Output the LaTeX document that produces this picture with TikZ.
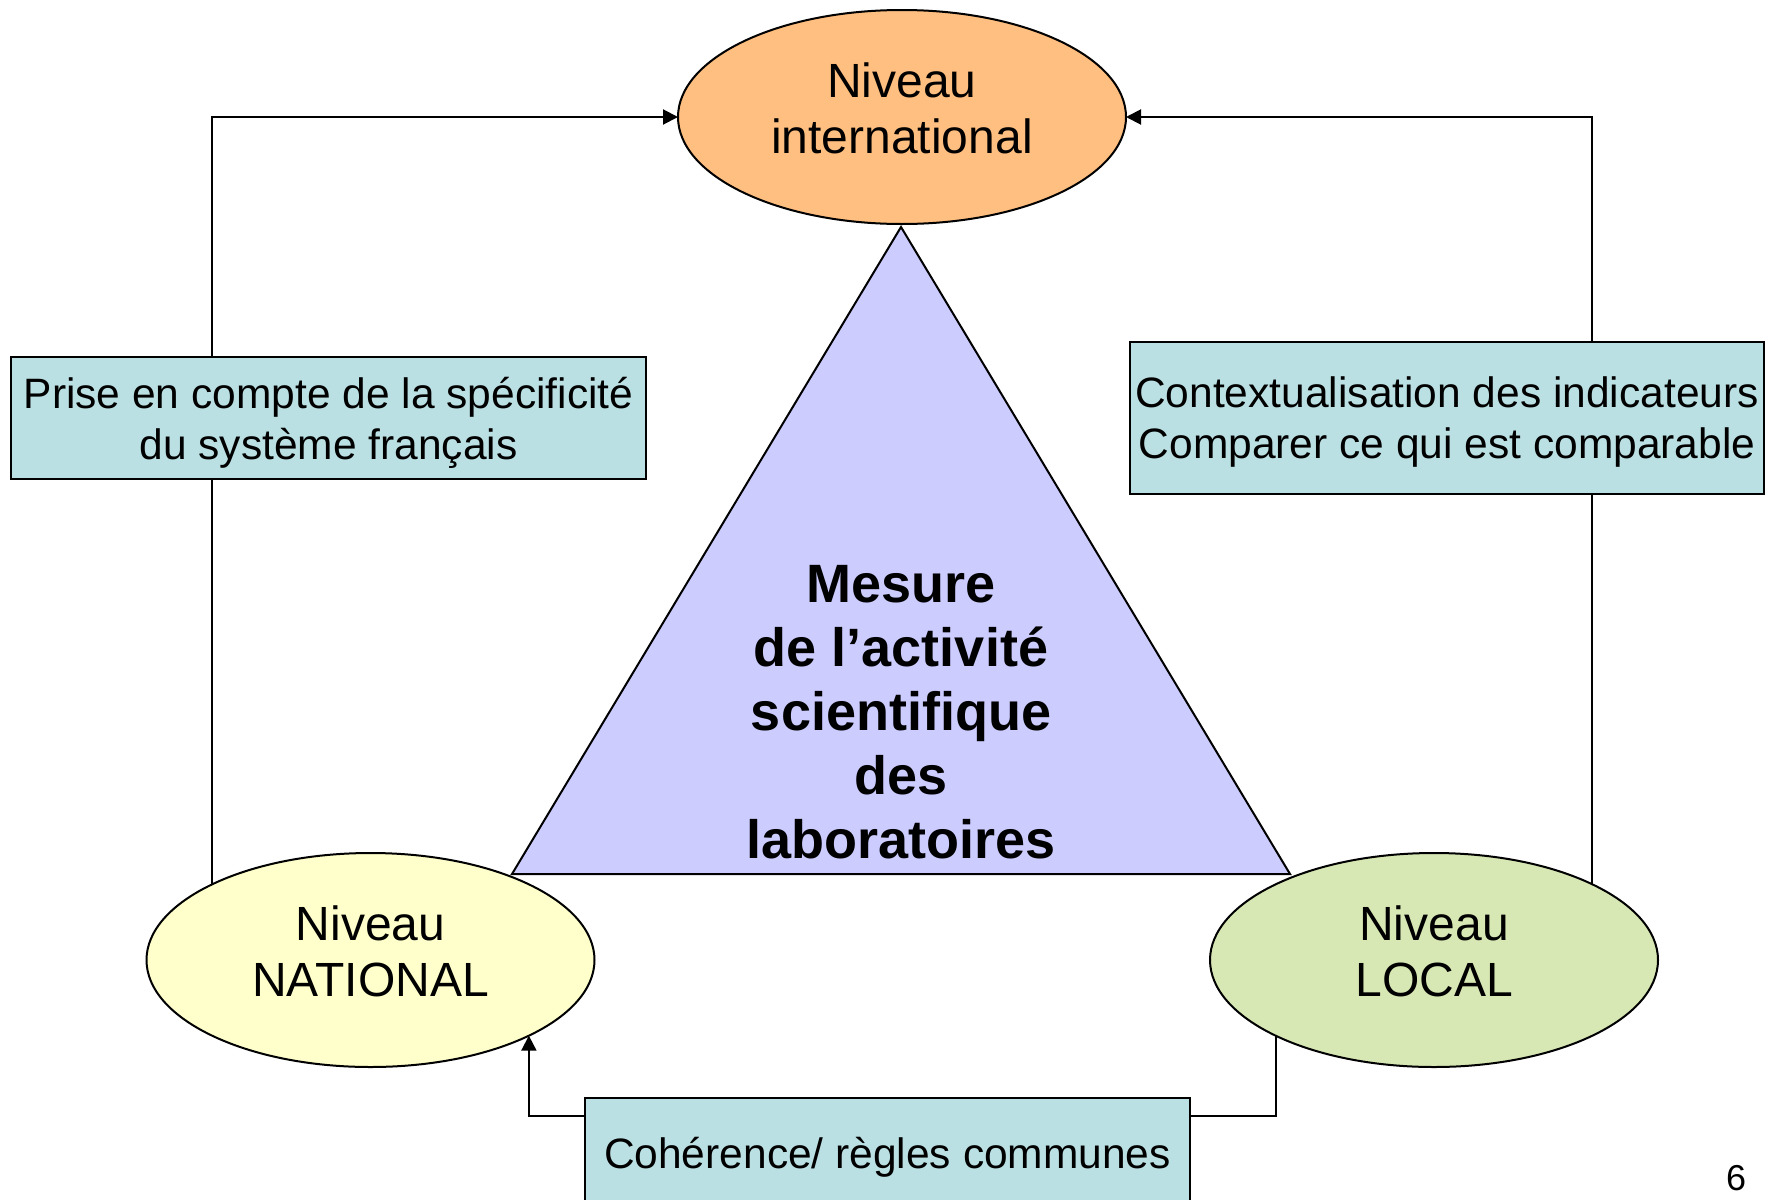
\documentclass[tikz,border=0pt]{standalone}
\usepackage{fontspec}
\setmainfont{Liberation Sans}
\usepackage{tikz}
\usetikzlibrary{shapes.geometric,arrows.meta}

\definecolor{intlorange}{RGB}{255,191,128}
\definecolor{natyellow}{RGB}{255,255,204}
\definecolor{locgreen}{RGB}{215,232,180}
\definecolor{trililac}{RGB}{204,204,255}
\definecolor{boxteal}{RGB}{187,224,227}

\begin{document}
\begin{tikzpicture}[x=0.5pt, y=-0.5pt,
    niveau/.style={ellipse, draw, line width=1pt, minimum width=224pt, minimum height=107pt,
        inner sep=0pt, outer sep=0pt, align=center, text depth=9pt,
        font=\fontsize{24}{28.3}\selectfont},
    liaison/.style={draw, line width=1pt, fill=boxteal, inner sep=0pt, outer sep=0pt,
        align=center, text depth=0pt, font=\fontsize{21.25}{25.5}\selectfont},
    fleche/.style={line width=1pt, -{Triangle[length=7.5pt,width=7.5pt]}}]
    \useasboundingbox (0,0) rectangle (1771,1199);

    % the three levels
    \node[niveau, fill=intlorange] (intl) at (902,117) {Niveau\\international};
    \node[niveau, fill=natyellow] (nat) at (370.5,960) {Niveau\\NATIONAL};
    \node[niveau, fill=locgreen] (loc) at (1434,960) {Niveau\\LOCAL};

    % triangle in the middle
    \coordinate (apex) at (901,227);
    \coordinate (baseL) at (512,874);
    \coordinate (baseR) at (1290,874);
    \draw[line width=1pt, fill=trililac] (apex) -- (baseL) -- (baseR) -- cycle;
    \node[align=center, font=\fontsize{27}{32}\bfseries] (mesure) at (901,712)
        {Mesure\\de l’activité\\scientifique\\des\\laboratoires};

    % connectors
    \draw[fleche] (nat.north west) |- (intl.west);
    \draw[fleche] (loc.north east) |- (intl.east);
    \coordinate (bend) at (900,1116);
    \draw[fleche] (loc.south west) -- (loc.south west |- bend) -- (nat.south east |- bend) -- (nat.south east);

    % labels on the connectors
    \node[liaison, minimum width=317.5pt, minimum height=61pt] (prise) at (328.5,418)
        {Prise en compte de la spécificité\\du système français};
    \node[liaison, minimum width=317pt, minimum height=76pt] (context) at (1447,418)
        {Contextualisation des indicateurs\\Comparer ce qui est comparable};
    \node[liaison, minimum width=302.5pt, minimum height=55pt] (coherence) at (887.5,1153)
        {Cohérence/ règles communes};

    \node[font=\fontsize{18}{21}\selectfont] (page) at (1736,1178) {6};
\end{tikzpicture}
\end{document}
